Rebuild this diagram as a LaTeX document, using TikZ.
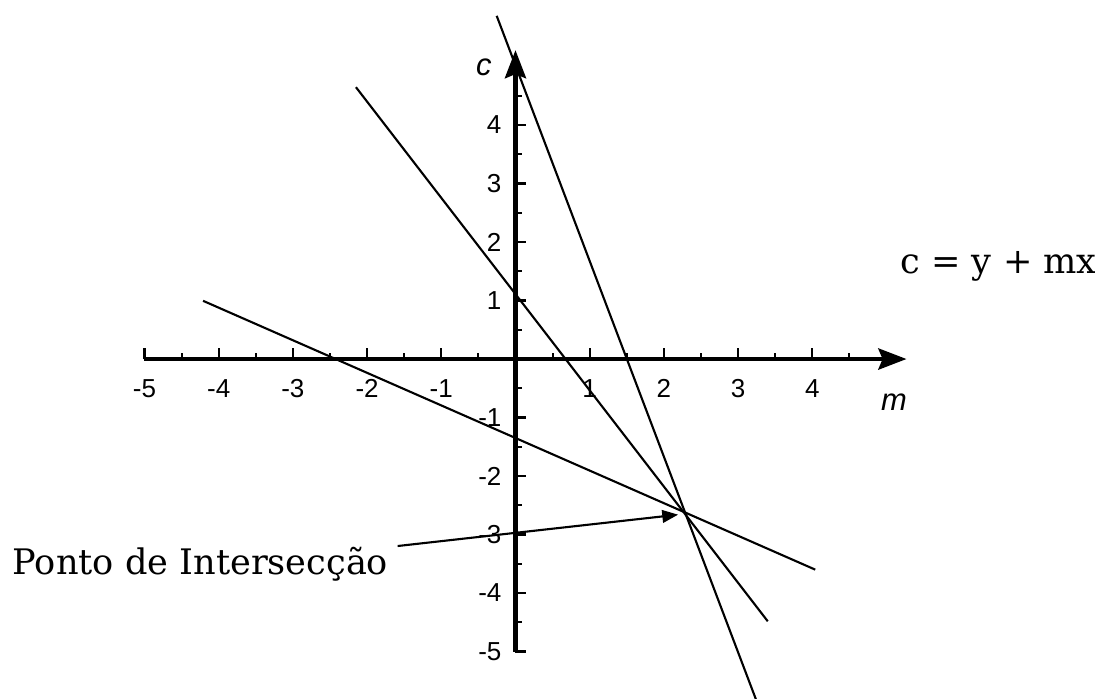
\documentclass[tikz,border=0pt]{standalone}
\usepackage{fontspec}
\setmainfont{DejaVu Serif}
\newfontfamily\eixofont{Liberation Sans}
\usetikzlibrary{arrows.meta}
\tikzset{>=Stealth,
 eixo/.style={line width=1.2pt,-{Stealth[length=8pt,width=6pt,inset=1.2pt]}},
 reta/.style={line width=.6pt},
 marca/.style={line width=.6pt},
 num/.style={font=\eixofont\fontsize{7.4}{9}\selectfont,inner sep=0pt},
 var/.style={font=\eixofont\itshape\fontsize{8.8}{10}\selectfont,inner sep=0pt},
 rotulo/.style={font=\fontsize{10}{12}\selectfont,inner sep=0pt},
 seta/.style={line width=.6pt,-{Triangle[length=4.5pt,width=3.6pt]},shorten >=2.3pt}}
\begin{document}
\begin{tikzpicture}[x=.742cm,y=.585cm]
\useasboundingbox (-6.947,-5.795) rectangle (7.810,6.137);
% Eixos m (horizontal) e c (vertical).
\draw[eixo] (-5,0)--(5.27,0);
\draw[eixo] (0,-5)--(0,5.28);
% Marcas inteiras e meias, com os valores.
\foreach \x [count=\i] in {-5,-4,-3,-2,-1,1,2,3,4}{
 \draw[marca] (\x,0)--++(0,3pt);
 \node[num] (nm\i) at (\x,-.5){\x};}
\foreach \y [count=\i] in {-5,-4,-3,-2,-1,1,2,3,4}{
 \draw[marca] (0,\y)--++(3pt,0);
 \node[num,anchor=east] (nc\i) at (-.18,\y){\y};}
\foreach \t in {-4.5,-3.5,...,4.5}{
 \draw[marca] (\t,0)--++(0,1.8pt);
 \draw[marca] (0,\t)--++(1.8pt,0);}
\node[var] (vc) at (-.425,4.99){c};
\node[var] (vm) at (5.10,-.735){m};
% Tres retas c = y + mx, que se cortam no mesmo ponto.
\draw[reta] (-4.21,.995)--(4.04,-3.60);
\draw[reta] (-2.15,4.647)--(3.40,-4.483);
\draw[reta] (-.253,5.866)--(3.24,-5.815);
\coordinate (inter) at (2.3,-2.645);
% Rotulos.
\node[rotulo,anchor=base west] (eq) at (5.18,1.47){c = y + mx};
\node[rotulo,anchor=base west] (ponto) at (-6.786,-3.675){Ponto de Intersecção};
\draw[seta] ([xshift=2.5pt]ponto.north east)--(inter);
\end{tikzpicture}
\end{document}
